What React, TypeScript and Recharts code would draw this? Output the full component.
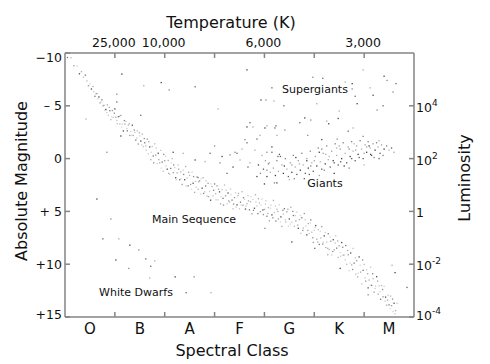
import React from "react";
import { ScatterChart, Scatter, XAxis, YAxis, Cell } from "recharts";

const FONT = "DejaVu Sans, sans-serif";
const AXIS = "#858585";

const spectralClasses = ["O", "B", "A", "F", "G", "K", "M"];
const spectralTicks = [0.5, 1, 1.5, 2, 2.5, 3, 3.5, 4, 4.5, 5, 5.5, 6, 6.5];
const temperatureTicks = [1, 2, 3, 4, 5, 6];
const temperatureLabels = ["25,000", "10,000", "", "6,000", "", "3,000"];
const magnitudeTicks = [-10, -5, 0, 5, 10, 15];
const magnitudeLabels = ["\u221210", "\u2013 5", "0", "+ 5", "+10", "+15"];
const luminosityTicks = [-5, 0, 5, 10, 15];
const luminosityExponents = ["4", "2", "", "-2", "-4"];

// x = spectral position (O=0 .. M=7), y = absolute magnitude
const mainSequence: [number, number][] = [
  [0.05, -9.57], [0.12, -9.55], [0.18, -8.8], [0.24, -8.77], [0.29, -8.03], [0.33, -8.23], [0.37, -7.7], [0.41, -7.9],
  [0.44, -7.35], [0.47, -6.9], [0.5, -7.07], [0.53, -6.59], [0.56, -6.83], [0.58, -6.33], [0.6, -5.9], [0.62, -6.14],
  [0.64, -6.16], [0.66, -5.67], [0.68, -5.84], [0.7, -5.27], [0.72, -5.35], [0.74, -5.57], [0.76, -4.98], [0.78, -5.04],
  [0.8, -4.57], [0.82, -4.65], [0.85, -5.09], [0.87, -4.1], [0.9, -4.54], [0.92, -3.69], [0.95, -4.55], [0.97, -3.91],
  [1.0, -4.7], [1.02, -3.92], [1.05, -3.31], [1.07, -3.97], [1.1, -3.28], [1.12, -4.08], [1.15, -3.26], [1.17, -2.62],
  [1.2, -3.27], [1.22, -3.53], [1.25, -2.63], [1.27, -3.17], [1.3, -2.19], [1.32, -2.56], [1.35, -3.16], [1.37, -2.19],
  [1.4, -2.48], [1.42, -1.75], [1.45, -2.63], [1.47, -1.38], [1.5, -2.15], [1.52, -1.66], [1.55, -2.33], [1.57, -1.14],
  [1.6, -1.5], [1.62, -1.2], [1.65, -1.85], [1.67, -0.45], [1.7, -1.1], [1.72, 0.1], [1.75, -1.15], [1.77, -0.25],
  [1.8, -1.4], [1.82, -0.33], [1.85, 0.47], [1.87, -0.51], [1.9, 0.4], [1.92, -0.78], [1.95, 0.33], [1.97, 1.2],
  [2.0, 0.2], [2.02, -0.22], [2.05, 1.0], [2.07, 0.18], [2.1, 1.5], [2.12, 0.93], [2.15, 0.0], [2.17, 1.33],
  [2.2, 0.85], [2.22, 1.81], [2.25, 1.35], [2.27, 0.61], [2.3, 2.0], [2.32, 1.26], [2.35, 2.45], [2.37, 1.11],
  [2.4, 2.0], [2.42, 0.75], [2.45, 1.83], [2.47, 2.58], [2.5, 1.6], [2.52, 2.45], [2.55, 1.28], [2.57, 2.33],
  [2.6, 3.2], [2.62, 2.16], [2.65, 1.75], [2.67, 2.91], [2.7, 2.1], [2.72, 3.36], [2.75, 2.8], [2.77, 1.81],
  [2.8, 3.15], [2.82, 2.59], [2.85, 3.55], [2.87, 2.34], [2.9, 3.1], [2.92, 3.94], [2.95, 2.65], [2.97, 3.54],
  [3.0, 2.4], [3.02, 3.33], [3.05, 2.58], [3.07, 3.91], [3.1, 3.15], [3.12, 4.28], [3.15, 2.93], [3.17, 3.76],
  [3.2, 2.5], [3.22, 3.53], [3.25, 4.28], [3.27, 3.26], [3.3, 4.1], [3.32, 2.88], [3.35, 3.93], [3.37, 4.76],
  [3.4, 3.7], [3.42, 3.23], [3.45, 4.38], [3.47, 3.51], [3.5, 4.75], [3.52, 4.13], [3.55, 3.13], [3.57, 4.41],
  [3.6, 3.85], [3.62, 4.78], [3.65, 4.28], [3.67, 3.51], [3.7, 4.85], [3.72, 4.08], [3.75, 5.23], [3.77, 3.86],
  [3.8, 4.7], [3.82, 3.43], [3.85, 4.48], [3.87, 5.21], [3.9, 4.2], [3.92, 5.03], [3.95, 3.83], [3.97, 4.86],
  [4.0, 4.81], [4.03, 3.99], [4.05, 5.46], [4.08, 4.64], [4.1, 5.89], [4.13, 4.41], [4.15, 5.33], [4.18, 3.96],
  [4.2, 5.1], [4.23, 5.92], [4.25, 4.79], [4.28, 5.72], [4.3, 4.37], [4.33, 5.52], [4.35, 6.43], [4.38, 5.26],
  [4.4, 4.74], [4.43, 6.0], [4.45, 5.04], [4.48, 6.4], [4.5, 5.72], [4.53, 4.61], [4.55, 6.02], [4.58, 5.39],
  [4.6, 6.42], [4.63, 5.9], [4.65, 5.08], [4.68, 6.6], [4.7, 5.78], [4.73, 7.08], [4.75, 5.6], [4.78, 6.57],
  [4.8, 5.2], [4.83, 6.39], [4.85, 7.22], [4.88, 6.15], [4.9, 7.1], [4.93, 5.81], [4.95, 6.97], [4.98, 7.94],
  [5.0, 6.79], [5.03, 6.34], [5.05, 7.63], [5.08, 6.74], [5.1, 8.13], [5.13, 7.52], [5.15, 6.44], [5.18, 7.92],
  [5.2, 7.32], [5.23, 8.42], [5.25, 7.89], [5.28, 7.11], [5.3, 8.61], [5.33, 7.83], [5.35, 9.12], [5.38, 7.68],
  [5.4, 8.63], [5.43, 7.3], [5.45, 8.48], [5.48, 9.35], [5.5, 8.26], [5.53, 9.25], [5.55, 7.95], [5.58, 9.15],
  [5.6, 9.13], [5.63, 8.23], [5.65, 10.01], [5.68, 9.1], [5.7, 10.62], [5.73, 8.94], [5.75, 10.07], [5.78, 8.51],
  [5.8, 9.9], [5.83, 10.95], [5.85, 9.67], [5.88, 10.85], [5.9, 9.31], [5.93, 10.75], [5.95, 11.88], [5.98, 10.58],
  [6.0, 10.02], [6.03, 11.6], [6.05, 10.53], [6.08, 12.24], [6.1, 11.5], [6.13, 10.28], [6.15, 12.01], [6.18, 11.37],
  [6.2, 12.65], [6.23, 12.07], [6.25, 11.18], [6.28, 12.84], [6.3, 12.05], [6.33, 13.32], [6.35, 12.03], [6.38, 13.09],
  [6.4, 12.1], [6.43, 13.12], [6.45, 13.88], [6.48, 12.94], [6.5, 13.85], [6.53, 13.02], [6.55, 13.93], [6.58, 14.49],
  [6.6, 13.7], [6.63, 14.4], [6.66, 13.7],
];

const mainSequenceFaint: [number, number][] = [
  [0.84, -4.35], [0.89, -4.85], [0.94, -3.95], [0.99, -4.3], [1.04, -3.6], [1.09, -4.0], [1.14, -3.0], [1.19, -3.6],
  [1.24, -2.85], [1.29, -3.3], [1.34, -2.2], [1.39, -2.7], [1.44, -1.95], [1.49, -2.45], [1.54, -1.3], [1.59, -1.9],
  [1.63, -0.8], [1.68, -1.6], [1.73, -0.6], [1.78, 0.4], [1.83, -1.0], [1.88, 0.1], [1.93, 0.9], [1.98, -0.4],
  [2.03, 0.7], [2.08, 1.4], [2.13, 0.4], [2.18, 0.6], [2.23, 2.0], [2.28, 1.0], [2.33, 1.9], [2.38, 1.5],
  [2.43, 2.6], [2.48, 1.3], [2.53, 2.9], [2.58, 1.7], [2.63, 2.7], [2.68, 2.2], [2.73, 1.9], [2.78, 3.3],
  [2.83, 2.1], [2.88, 3.6], [2.93, 2.4], [2.98, 3.0], [3.03, 3.9], [3.08, 2.9], [3.13, 3.6], [3.18, 4.4],
  [3.23, 3.0], [3.28, 4.0], [3.33, 3.4], [3.38, 4.3], [3.43, 4.6], [3.48, 3.3], [3.53, 4.4], [3.58, 3.7],
  [3.63, 4.5], [3.68, 4.0], [3.73, 3.6], [3.78, 4.9], [3.83, 4.1], [3.88, 3.8], [3.93, 4.4], [3.98, 5.3],
  [4.02, 4.3], [4.07, 5.2], [4.12, 4.7], [4.17, 5.6], [4.22, 4.5], [4.27, 5.0], [4.32, 6.0], [4.37, 4.9],
  [4.42, 5.8], [4.47, 4.8], [4.52, 6.2], [4.57, 5.0], [4.62, 5.4], [4.67, 6.3], [4.72, 5.4], [4.77, 6.8],
  [4.82, 5.8], [4.87, 6.8], [4.92, 6.1], [4.97, 7.5], [5.02, 6.5], [5.07, 7.9], [5.12, 6.9], [5.17, 8.1],
  [5.22, 7.0], [5.27, 8.5], [5.32, 7.4], [5.37, 8.8], [5.42, 8.0], [5.47, 7.8], [5.52, 8.9], [5.57, 8.4],
  [5.62, 9.6], [5.67, 8.7], [5.72, 9.9], [5.77, 10.5], [5.82, 9.4], [5.87, 11.2], [5.92, 10.1], [5.97, 9.6],
  [6.02, 11.3], [6.07, 10.9], [6.12, 12.0], [6.17, 10.9], [6.22, 12.3], [6.27, 11.6], [6.32, 12.6], [6.37, 12.4],
  [6.42, 13.5], [6.47, 13.4], [6.52, 14.2], [6.57, 13.3], [6.62, 14.7],
];

const giants: [number, number][] = [
  [3.88, 0.6], [3.92, 1.4], [3.95, -0.3], [3.98, 1.0], [4.02, 0.2], [4.05, 1.7], [4.08, 0.5], [4.12, 1.3],
  [4.15, -0.6], [4.18, 0.9], [4.22, 1.6], [4.25, 0.2], [4.28, 1.2], [4.32, -0.2], [4.35, 0.6], [4.38, 1.4],
  [4.42, 0.0], [4.45, 1.0], [4.48, 1.7], [4.52, 0.4], [4.55, 1.3], [4.58, -0.3], [4.62, 0.8], [4.65, 1.5],
  [4.68, 0.2], [4.72, 1.1], [4.75, -0.5], [4.78, 0.6], [4.82, 1.4], [4.85, 0.0], [4.88, 0.9], [4.92, -0.7],
  [4.95, 0.4], [4.98, 1.2], [5.02, -0.2], [5.05, 0.7], [5.08, -1.0], [5.12, 0.3], [5.15, 1.0], [5.18, -0.5],
  [5.22, 0.5], [5.25, -1.2], [5.28, 0.1], [5.32, 0.8], [5.35, -0.7], [5.38, 0.2], [5.42, -1.4], [5.45, -0.3],
  [5.48, 0.6], [5.52, -0.9], [5.55, 0.0], [5.58, -1.5], [5.62, -0.5], [5.65, 0.4], [5.68, -1.1], [5.72, -0.2],
  [5.75, -1.6], [5.78, -0.7], [5.82, 0.2], [5.85, -1.2], [5.88, -0.4], [5.92, -1.7], [5.95, -0.9], [5.98, 0.0],
  [6.02, -1.3], [6.05, -0.6], [6.08, -1.6], [6.12, -1.0], [6.15, -0.3], [6.18, -1.4], [6.22, -0.8], [6.25, -1.5],
  [6.28, -1.1], [6.32, -0.5], [6.35, -1.3], [6.4, -0.9], [6.45, -1.2], [6.5, -0.8], [6.55, -1.0], [4.1, 0.4],
  [4.4, 0.7], [4.6, 1.9], [4.7, 0.5], [4.9, 1.5], [5.0, 0.2], [5.1, -0.6], [5.2, 1.1], [5.3, -0.2],
  [5.4, 0.4], [5.5, -1.2], [5.6, 0.7], [5.7, -0.9], [5.8, -1.4], [5.9, -0.1], [6.0, -0.5], [6.1, -1.2],
  [6.2, -0.1], [6.3, -1.7], [4.3, -0.4], [4.55, 0.6], [4.85, 0.2], [5.15, -0.9], [5.45, -1.0], [5.75, 0.0],
  [6.05, -1.1], [4.0, 2.4], [4.2, 2.3], [4.5, 2.0], [4.8, 1.9], [5.1, 1.6], [5.4, 1.4], [5.7, 0.9],
  [6.0, 0.6], [6.3, 0.0], [6.6, -0.6], [4.63, -0.1], [4.93, 0.7], [5.23, -0.4], [5.53, 0.3], [5.83, -0.8],
  [6.13, -0.4], [6.38, -0.3],
];

const subgiants: [number, number][] = [
  [3.15, -0.2], [3.41, -0.6], [3.65, -1.5], [3.71, 0.4], [3.85, 1.7], [4.05, 1.1], [4.21, -2.9], [3.91, -2.2],
  [4.25, 2.3], [3.11, 0.4], [2.91, -0.5], [2.81, 0.3], [3.37, 0.8], [4.05, -0.6], [4.27, -0.2], [2.37, -0.5],
  [2.17, -0.6], [2.67, 1.8], [3.71, -3.4], [3.77, -3.0], [4.01, -2.9], [3.61, -1.8], [3.67, 0.8], [3.81, -0.8],
  [4.15, -1.1], [3.31, -0.35], [3.45, -0.5], [3.51, 0.13], [2.61, 0.13], [3.0, -1.2], [3.25, 1.4], [3.55, -0.9],
];

const supergiants: [number, number][] = [
  [3.65, -8.4], [4.97, -7.7], [5.17, -7.6], [5.98, -8.4], [6.4, -7.8], [6.46, -7.4], [6.64, -7.1], [5.62, -7.25],
  [5.76, -7.1], [5.76, -6.6], [5.82, -5.9], [6.12, -6.7], [6.18, -6.0], [6.58, -6.3], [4.15, -6.7], [4.19, -5.45],
  [3.93, -5.55], [4.03, -5.55], [4.39, -5.0], [5.05, -5.2], [5.86, -5.2], [6.26, -4.6], [6.38, -5.0], [5.5, -4.5],
  [4.81, -3.85], [4.93, -3.65], [4.71, -3.4], [5.25, -3.55], [5.29, -3.3], [4.41, -2.7], [4.23, -3.1], [4.05, -3.1],
  [3.65, -3.0], [4.87, -2.2], [5.68, -2.6], [5.78, -2.9], [5.48, -3.8], [5.98, -2.1], [3.85, -1.85], [4.25, -2.2],
  [5.15, -1.8], [5.46, -1.85],
];

const hotOutliers: [number, number][] = [
  [1.14, -8.0], [1.04, -6.1], [1.04, -5.36], [1.58, -6.9], [1.93, -7.2], [2.09, -6.5], [1.52, -4.1], [0.42, -3.75],
  [1.12, -2.14], [0.84, -0.6], [2.61, -6.8], [3.07, -4.7],
];

const faintOutliers: [number, number][] = [
  [5.52, 10.4], [6.08, 12.9], [6.86, 12.2], [5.27, 9.1], [4.55, 7.9], [4.01, 6.6], [5.01, 8.5], [6.56, 10.1],
  [6.62, 10.8],
];

const whiteDwarfs: [number, number][] = [
  [0.64, 3.83], [0.92, 5.72], [0.76, 7.6], [1.08, 7.6], [1.3, 8.2], [1.48, 8.65], [1.62, 9.5], [1.8, 9.7],
  [1.02, 9.6], [1.28, 10.4], [1.72, 10.2], [1.7, 11.3], [2.21, 11.2], [2.59, 11.2], [2.43, 12.7], [2.93, 12.7],
];

const toPoints = (rows: [number, number][]) => rows.map(([x, y]) => ({ x, y }));

const Dot = (props: any) => {
  const { cx, cy, fill } = props;
  if (cx == null || cy == null) return null;
  return <rect x={cx - 0.65} y={cy - 0.65} width={1.3} height={1.3} fill={fill} />;
};

const SpectralTick = ({ x, y, payload }: any) => {
  const v = payload.value;
  if (Number.isInteger(v)) {
    return <line x1={x} x2={x} y1={y} y2={y - 5} stroke={AXIS} strokeWidth={1.5} />;
  }
  return (
    <text x={x} y={y + 17} textAnchor="middle" fontFamily={FONT} fontSize={15} fill="#111">
      {spectralClasses[Math.floor(v)]}
    </text>
  );
};

const TemperatureTick = ({ x, y, payload }: any) => {
  const label = temperatureLabels[temperatureTicks.indexOf(payload.value)];
  return (
    <g>
      <line x1={x} x2={x} y1={y} y2={y + 5} stroke={AXIS} strokeWidth={1.5} />
      <text x={x - 1} y={y - 6} textAnchor="middle" fontFamily={FONT} fontSize={12.5} fill="#111">
        {label}
      </text>
    </g>
  );
};

const MagnitudeTick = ({ x, y, payload }: any) => {
  const v = payload.value;
  const label = magnitudeLabels[magnitudeTicks.indexOf(v)];
  const dy = v === -10 ? 4 : v === 15 ? -3 : 0;
  return (
    <g>
      <line x1={x} x2={x + 5} y1={y} y2={y} stroke={AXIS} strokeWidth={1.5} />
      <text x={x - 3} y={y + dy + 4.5} textAnchor="end" fontFamily={FONT} fontSize={12.5} fill="#111">
        {label}
      </text>
    </g>
  );
};

const LuminosityTick = ({ x, y, payload }: any) => {
  const v = payload.value;
  const exp = luminosityExponents[luminosityTicks.indexOf(v)];
  const dy = v === 15 ? -3 : 0;
  return (
    <g>
      <line x1={x} x2={x - 5} y1={y} y2={y} stroke={AXIS} strokeWidth={1.5} />
      <text x={x + 2} y={y + dy + 6} fontFamily={FONT} fontSize={12.5} fill="#111">
        {exp === "" ? "1" : "10"}
        {exp !== "" && (
          <tspan fontSize={9} dy={-6}>
            {exp}
          </tspan>
        )}
      </text>
    </g>
  );
};

const Titles = () => (
  <g fontFamily={FONT} fill="#111">
    <text x={231} y={28} textAnchor="middle" fontSize={16}>Temperature (K)</text>
    <text x={232} y={356} textAnchor="middle" fontSize={16}>Spectral Class</text>
    <text transform="translate(27,181) rotate(-90)" textAnchor="middle" fontSize={16}>Absolute Magnitude</text>
    <text transform="translate(470,178) rotate(-90)" textAnchor="middle" fontSize={16}>Luminosity</text>
    <text x={315} y={93} textAnchor="middle" fontSize={11}>Supergiants</text>
    <text x={325} y={187} textAnchor="middle" fontSize={11}>Giants</text>
    <text x={194} y={223} textAnchor="middle" fontSize={11}>Main Sequence</text>
    <text x={136} y={296} textAnchor="middle" fontSize={11}>White Dwarfs</text>
  </g>
);

const sparse = ["#444", "#888", "#666", "#aaa"];

const series: { name: string; rows: [number, number][]; colors: string[]; top?: boolean }[] = [
  { name: "faint", rows: mainSequenceFaint, colors: ["#c8c8c8", "#a8a8a8", "#d6d6d6", "#8a8a8a"] },
  { name: "main", rows: mainSequence, colors: ["#777", "#b8b8b8", "#999", "#cfcfcf", "#4a4a4a", "#aaa", "#c4c4c4"] },
  { name: "giants", rows: giants, colors: ["#3a3a3a", "#808080", "#b0b0b0", "#5a5a5a", "#a0a0a0"] },
  { name: "subgiants", rows: subgiants, colors: sparse },
  { name: "supergiants", rows: supergiants, colors: sparse },
  { name: "hot", rows: hotOutliers, colors: sparse },
  { name: "wd", rows: whiteDwarfs, colors: sparse },
  { name: "faintOut", rows: faintOutliers, colors: sparse, top: true },
];

export default function App() {
  return (
    <div style={{ position: "absolute", left: 0, top: 0, background: "#fff" }}>
      <ScatterChart width={490} height={364} margin={{ top: 0, right: 0, bottom: 0, left: 0 }}>
        <XAxis
          xAxisId="bottom"
          orientation="bottom"
          type="number"
          dataKey="x"
          domain={[0, 7]}
          ticks={spectralTicks}
          interval={0}
          height={47}
          tickSize={0}
          tickMargin={0}
          tickLine={false}
          axisLine={{ stroke: AXIS, strokeWidth: 1.5 }}
          tick={<SpectralTick />}
          label={{ content: () => <Titles /> }}
        />
        <XAxis
          xAxisId="top"
          orientation="top"
          type="number"
          dataKey="x"
          domain={[0, 7]}
          ticks={temperatureTicks}
          interval={0}
          height={53}
          tickSize={0}
          tickMargin={0}
          tickLine={false}
          axisLine={{ stroke: AXIS, strokeWidth: 1.5 }}
          tick={<TemperatureTick />}
        />
        <YAxis
          yAxisId="left"
          orientation="left"
          type="number"
          dataKey="y"
          domain={[-10, 15]}
          reversed
          ticks={magnitudeTicks}
          interval={0}
          width={65}
          tickSize={0}
          tickMargin={0}
          tickLine={false}
          axisLine={{ stroke: AXIS, strokeWidth: 1.5 }}
          tick={<MagnitudeTick />}
        />
        <YAxis
          yAxisId="right"
          orientation="right"
          type="number"
          dataKey="y"
          domain={[-10, 15]}
          reversed
          ticks={luminosityTicks}
          interval={0}
          width={76}
          tickSize={0}
          tickMargin={0}
          tickLine={false}
          axisLine={{ stroke: AXIS, strokeWidth: 1.5 }}
          tick={<LuminosityTick />}
        />
        {series.map((s) => (
          <Scatter
            key={s.name}
            data={toPoints(s.rows)}
            xAxisId={s.top ? "top" : "bottom"}
            yAxisId={s.top ? "right" : "left"}
            shape={<Dot />}
            isAnimationActive={false}
          >
            {s.rows.map((_, i) => (
              <Cell key={i} fill={s.colors[i % s.colors.length]} />
            ))}
          </Scatter>
        ))}
      </ScatterChart>
    </div>
  );
}
